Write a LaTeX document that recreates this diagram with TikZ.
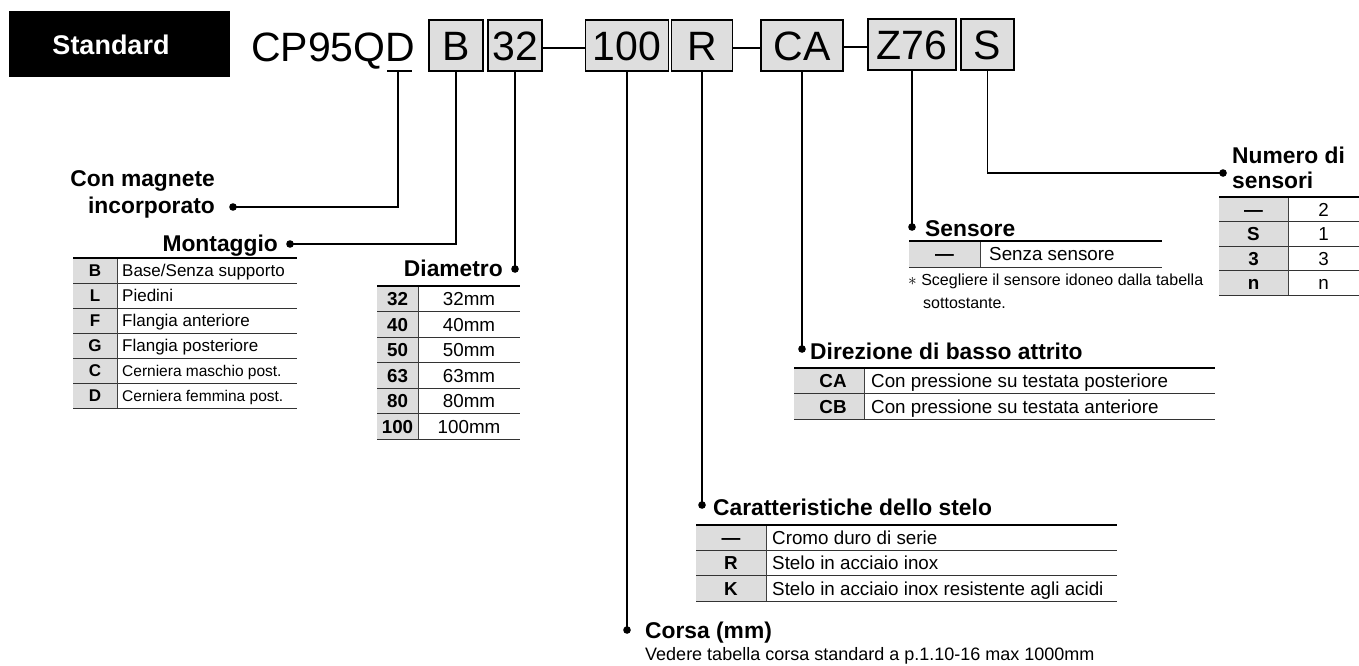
\documentclass[tikz,border=0pt]{standalone}
\usepackage{fontspec}
\setmainfont{Liberation Sans}
\definecolor{boxgray}{HTML}{DEDEDE}
\definecolor{cellgray}{HTML}{DDDDDD}
\begin{document}
\begin{tikzpicture}[x=1pt,y=-1pt,
  hdr/.style={font=\fontsize{41}{41}\selectfont, inner sep=0pt, text height=29.4pt, text depth=0pt},
  codebox/.style={draw=black, line width=1.6pt, fill=boxgray, minimum height=51pt, inner sep=0pt,
     text height=29.4pt, text depth=0pt, font=\fontsize{41}{41}\selectfont},
  ttl/.style={font=\bfseries\fontsize{22.8}{24}\selectfont, inner sep=0pt, text height=16.3pt, text depth=0pt},
  cell/.style={font=\fontsize{17}{19}\selectfont, inner sep=0pt, text height=12.2pt, text depth=0pt},
  smallcell/.style={font=\fontsize{15.5}{17}\selectfont, inner sep=0pt, text height=11.1pt, text depth=0pt},
  codecell/.style={font=\bfseries\fontsize{17}{19}\selectfont, inner sep=0pt, text height=12.2pt, text depth=0pt},
  bigcell/.style={font=\fontsize{18.8}{20}\selectfont, inner sep=0pt, text height=13.5pt, text depth=0pt},
  bigcode/.style={font=\bfseries\fontsize{18.8}{20}\selectfont, inner sep=0pt, text height=13.5pt, text depth=0pt},
  note/.style={font=\fontsize{16}{18}\selectfont, inner sep=0pt, text height=11.5pt, text depth=0pt},
  conn/.style={line width=1.3pt},
  joiner/.style={line width=2.2pt},
  topline/.style={line width=1.8pt},
  rowline/.style={line width=0.9pt, draw=black!80},
  divline/.style={line width=0.9pt, draw=black!75},
  dotmark/.style={fill=black}
]
\useasboundingbox (0,0) rectangle (1359,665);

% ---------- header ----------
\node[fill=black, minimum width=221pt, minimum height=66pt, inner sep=0pt, anchor=north west] (std) at (9,11) {};
\node[text=white, inner sep=0pt, text height=19.5pt, text depth=0pt, font=\bfseries\fontsize{27}{27}\selectfont] (stdtxt) at (111,45) {Standard};

\node[hdr, anchor=west] (code) at (251,47) {CP95QD};
\node[codebox, minimum width=54pt] (bB) at (456,45.5) {B};
\node[codebox, minimum width=54pt] (b32) at (515,45.5) {32};
\node[codebox, minimum width=83pt] (b100) at (627,45.5) {100};
\node[codebox, minimum width=61pt] (bR) at (702,45.5) {R};
\node[codebox, minimum width=82pt] (bCA) at (802,45.5) {CA};
\node[codebox, minimum width=88pt] (bZ) at (912,44.5) {Z76};
\node[codebox, minimum width=53pt] (bS) at (987.5,44.5) {S};
\draw[joiner] (b32.east |- 0,48) -- (b100.west |- 0,48);
\draw[joiner] (bR.east |- 0,48) -- (bCA.west |- 0,48);
\draw[joiner] (bCA.east |- 0,47) -- (bZ.west |- 0,47);

% underline of D
\coordinate (ulA) at (387,71);
\coordinate (ulB) at (412,71);
\coordinate (ulM) at (398,71);
\draw[conn] (ulA) -- (ulB);

% ---------- dots ----------
\coordinate (dMag) at (233,207);
\coordinate (dMon) at (290,244);
\coordinate (dDia) at (515,269);
\coordinate (dCor) at (627,630);
\coordinate (dRod) at (702,505);
\coordinate (dDir) at (802,349);
\coordinate (dSen) at (912,227);
\coordinate (dNum) at (1223,173);

\draw[conn] (ulM) |- (dMag);
\draw[conn] (bB.south) |- (dMon);
\draw[conn] (b32.south) -- (dDia);
\draw[conn] (b100.south) -- (dCor);
\draw[conn] (bR.south) -- (dRod);
\draw[conn] (bCA.south) -- (dDir);
\draw[conn] (bZ.south) -- (dSen);
\draw[conn] (bS.south) |- (dNum);
\foreach \d in {dMag,dMon,dDia,dCor,dRod,dDir,dSen,dNum}
  \fill[dotmark] (\d) circle (3.8pt);

% ---------- titles ----------
\node[ttl, anchor=east] (tMag1) at (215,178) {Con magnete};
\node[ttl, anchor=east] (tMag2) at (215,205) {incorporato};
\node[ttl, anchor=east] (tMon) at (278,243) {Montaggio};
\node[ttl, anchor=east] (tDia) at (503,268) {Diametro};
\node[ttl, anchor=west] (tCor) at (645,630) {Corsa (mm)};
\node[ttl, anchor=west] (tRod) at (713,507) {Caratteristiche dello stelo};
\node[ttl, anchor=west] (tDir) at (810,351) {Direzione di basso attrito};
\node[ttl, anchor=west] (tSen) at (925,228) {Sensore};
\node[ttl, anchor=west] (tNum1) at (1232,155) {Numero di};
\node[ttl, anchor=west] (tNum2) at (1232,180) {sensori};

% ---------- Montaggio table ----------
\fill[cellgray] (73,258) rectangle (117,408);
\foreach \yy in {283,308,333,358,383,408} \draw[rowline] (73,\yy) -- (297,\yy);
\draw[divline] (117,258) -- (117,408);
\draw[topline] (73,258) -- (297,258);
\node[codecell] (mB) at (95,270.5) {B};
\node[codecell] (mL) at (95,295.5) {L};
\node[codecell] (mF) at (95,320.5) {F};
\node[codecell] (mG) at (95,345.5) {G};
\node[codecell] (mC) at (95,370.5) {C};
\node[codecell] (mD) at (95,395.5) {D};
\node[cell, anchor=west] (mBt) at (122,270.5) {Base/Senza supporto};
\node[cell, anchor=west] (mLt) at (122,295.5) {Piedini};
\node[cell, anchor=west] (mFt) at (122,320.5) {Flangia anteriore};
\node[cell, anchor=west] (mGt) at (122,345.5) {Flangia posteriore};
\node[smallcell, anchor=west] (mCt) at (122,370.5) {Cerniera maschio post.};
\node[smallcell, anchor=west] (mDt) at (122,395.5) {Cerniera femmina post.};

% ---------- Diametro table ----------
\fill[cellgray] (377,286) rectangle (418,439);
\foreach \yy in {311.5,337,362.5,388,413.5,439} \draw[rowline] (377,\yy) -- (520,\yy);
\draw[divline] (418,286) -- (418,439);
\draw[topline] (377,286) -- (520,286);
\node[bigcode] (d1) at (397.5,298.75) {32};
\node[bigcode] (d2) at (397.5,324.25) {40};
\node[bigcode] (d3) at (397.5,349.75) {50};
\node[bigcode] (d4) at (397.5,375.25) {63};
\node[bigcode] (d5) at (397.5,400.75) {80};
\node[bigcode] (d6) at (397.5,426.25) {100};
\node[bigcell] (d1t) at (469,298.75) {32mm};
\node[bigcell] (d2t) at (469,324.25) {40mm};
\node[bigcell] (d3t) at (469,349.75) {50mm};
\node[bigcell] (d4t) at (469,375.25) {63mm};
\node[bigcell] (d5t) at (469,400.75) {80mm};
\node[bigcell] (d6t) at (469,426.25) {100mm};

% ---------- Numero di sensori table ----------
\fill[cellgray] (1219,197) rectangle (1288,295);
\foreach \yy in {221.5,246,270.5,295} \draw[rowline] (1219,\yy) -- (1359,\yy);
\draw[divline] (1288,197) -- (1288,295);
\draw[topline] (1219,197) -- (1359,197);
\node[bigcode] (n1) at (1253.5,209.25) {—};
\node[bigcode] (n2) at (1253.5,233.75) {S};
\node[bigcode] (n3) at (1253.5,258.25) {3};
\node[bigcode] (n4) at (1253.5,282.75) {n};
\node[bigcell] (n1t) at (1323.5,209.25) {2};
\node[bigcell] (n2t) at (1323.5,233.75) {1};
\node[bigcell] (n3t) at (1323.5,258.25) {3};
\node[bigcell] (n4t) at (1323.5,282.75) {n};

% ---------- Sensore table ----------
\fill[cellgray] (909,241) rectangle (980,267);
\draw[rowline] (909,267) -- (1162,267);
\draw[divline] (980,241) -- (980,267);
\draw[topline] (909,241) -- (1162,241);
\node[bigcode] (s1) at (944.5,254) {—};
\node[bigcell, anchor=west] (s1t) at (989,254) {Senza sensore};
\node[note, anchor=west] (sn1) at (908,280) {$\ast$ Scegliere il sensore idoneo dalla tabella};
\node[note, anchor=west] (sn2) at (923,303) {sottostante.};

% ---------- Direzione table ----------
\fill[cellgray] (794,368) rectangle (864,419);
\foreach \yy in {393.5,419} \draw[rowline] (794,\yy) -- (1215,\yy);
\draw[divline] (864,368) -- (864,419);
\draw[topline] (794,368) -- (1215,368);
\node[bigcode] (c1) at (833,380.75) {CA};
\node[bigcode] (c2) at (833,406.25) {CB};
\node[bigcell, anchor=west] (c1t) at (871,380.75) {Con pressione su testata posteriore};
\node[bigcell, anchor=west] (c2t) at (871,406.25) {Con pressione su testata anteriore};

% ---------- Stelo table ----------
\fill[cellgray] (696,525) rectangle (766,601);
\foreach \yy in {550.3,575.6,601} \draw[rowline] (696,\yy) -- (1117,\yy);
\draw[divline] (766,525) -- (766,601);
\draw[topline] (696,525) -- (1117,525);
\node[bigcode] (r1) at (731,537.6) {—};
\node[bigcode] (r2) at (731,563) {R};
\node[bigcode] (r3) at (731,588.3) {K};
\node[bigcell, anchor=west] (r1t) at (772,537.6) {Cromo duro di serie};
\node[bigcell, anchor=west] (r2t) at (772,563) {Stelo in acciaio inox};
\node[bigcell, anchor=west] (r3t) at (772,588.3) {Stelo in acciaio inox resistente agli acidi};

% ---------- Corsa note ----------
\node[font=\fontsize{18}{20}\selectfont, inner sep=0pt, text height=12.9pt, text depth=0pt, anchor=west] (vnote) at (645,654.5) {Vedere tabella corsa standard a p.1.10-16 max 1000mm};
\end{tikzpicture}
\end{document}
